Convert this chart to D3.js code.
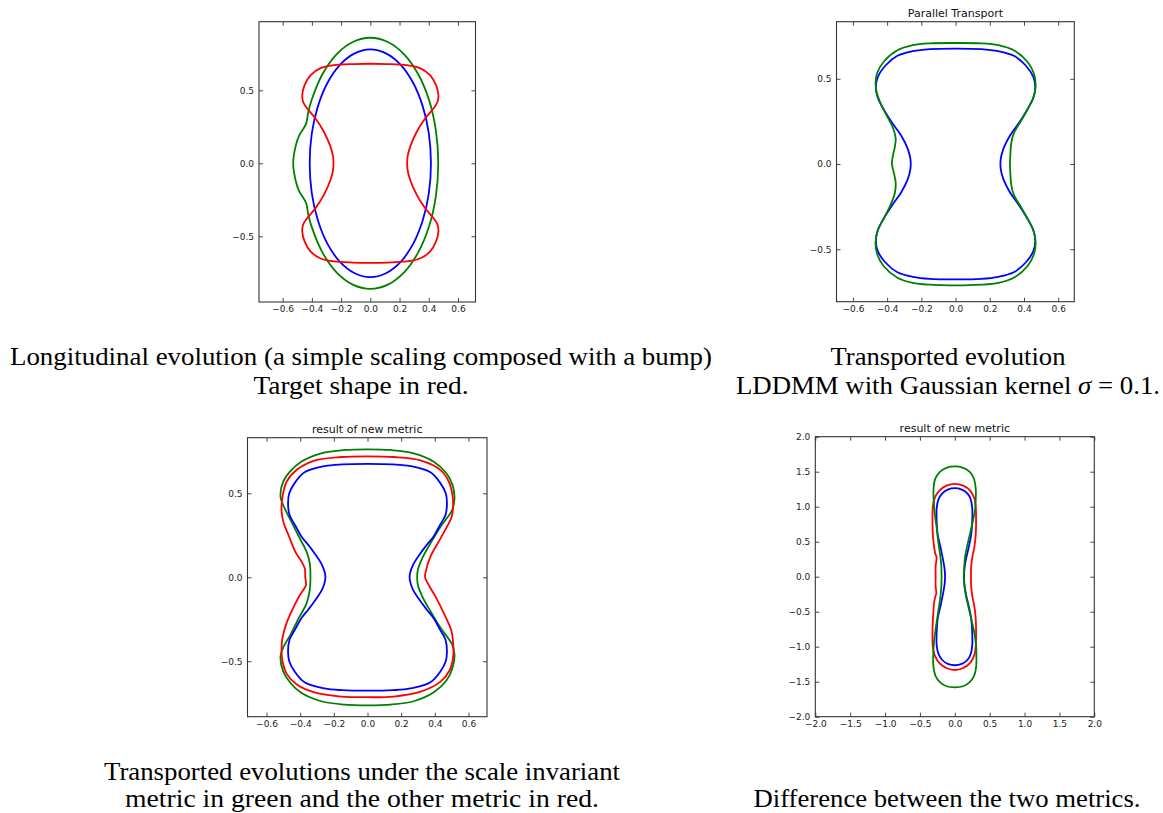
<!DOCTYPE html>
<html><head><meta charset="utf-8">
<script src="https://cdn.jsdelivr.net/npm/d3@7"></script>
<style>html,body{margin:0;padding:0;background:#fff}</style>
</head><body>
<svg id="chart" width="1163" height="813"></svg>
<script>
// ---------------- DATA ----------------
const smallTicksX = [-0.6, -0.4, -0.2, 0.0, 0.2, 0.4, 0.6];
const smallTicksY = [-0.5, 0.0, 0.5];
const bigTicks = [-2.0, -1.5, -1.0, -0.5, 0.0, 0.5, 1.0, 1.5, 2.0];

const panelTitles = ["", "Parallel Transport", "result of new metric", "result of new metric"];

// Panel 1: longitudinal evolution
const p1Blue = [[0,0.78],[0.107,0.753],[0.208,0.675],[0.293,0.552],[0.359,0.39],[0.401,0.202],[0.415,0],[0.401,-0.202],[0.359,-0.39],[0.293,-0.552],[0.208,-0.675],[0.107,-0.753],[0,-0.78],[-0.107,-0.753],[-0.208,-0.675],[-0.293,-0.552],[-0.359,-0.39],[-0.401,-0.202],[-0.415,0],[-0.401,0.202],[-0.359,0.39],[-0.293,0.552],[-0.208,0.675],[-0.107,0.753]];
const p1Green = [[0,0.86],[0.12,0.831],[0.233,0.745],[0.329,0.608],[0.403,0.43],[0.449,0.223],[0.465,0],[0.449,-0.223],[0.403,-0.43],[0.329,-0.608],[0.233,-0.745],[0.12,-0.831],[0,-0.86],[-0.12,-0.831],[-0.233,-0.745],[-0.329,-0.608],[-0.403,-0.43],[-0.425,-0.35],[-0.44,-0.27],[-0.489,-0.187],[-0.512,-0.114],[-0.528,0],[-0.512,0.114],[-0.489,0.187],[-0.44,0.27],[-0.425,0.35],[-0.403,0.43],[-0.329,0.608],[-0.233,0.745],[-0.12,0.831]];
const p1Red = [[0,0.682],[0.12,0.68],[0.25,0.672],[0.34,0.652],[0.41,0.603],[0.45,0.535],[0.466,0.466],[0.46,0.42],[0.432,0.375],[0.375,0.307],[0.318,0.216],[0.273,0.114],[0.255,0.045],[0.255,-0.045],[0.273,-0.114],[0.318,-0.216],[0.375,-0.307],[0.432,-0.375],[0.46,-0.42],[0.466,-0.466],[0.45,-0.535],[0.41,-0.603],[0.34,-0.652],[0.25,-0.672],[0.12,-0.68],[0,-0.682],[-0.12,-0.68],[-0.25,-0.672],[-0.34,-0.652],[-0.41,-0.603],[-0.45,-0.535],[-0.466,-0.466],[-0.46,-0.42],[-0.432,-0.375],[-0.375,-0.307],[-0.318,-0.216],[-0.273,-0.114],[-0.255,-0.045],[-0.255,0.045],[-0.273,0.114],[-0.318,0.216],[-0.375,0.307],[-0.432,0.375],[-0.46,0.42],[-0.466,0.466],[-0.45,0.535],[-0.41,0.603],[-0.34,0.652],[-0.25,0.672],[-0.12,0.68]];

// Panel 2: parallel transport
const p2Blue = [[0,0.677],[0.15,0.674],[0.25,0.662],[0.34,0.635],[0.41,0.578],[0.455,0.51],[0.466,0.45],[0.455,0.39],[0.42,0.32],[0.37,0.24],[0.32,0.17],[0.28,0.09],[0.264,0.03],[0.264,-0.03],[0.28,-0.09],[0.32,-0.17],[0.37,-0.24],[0.42,-0.32],[0.455,-0.39],[0.466,-0.45],[0.455,-0.51],[0.41,-0.578],[0.34,-0.635],[0.25,-0.662],[0.15,-0.674],[0,-0.677],[-0.15,-0.674],[-0.25,-0.662],[-0.34,-0.635],[-0.41,-0.578],[-0.455,-0.51],[-0.466,-0.45],[-0.455,-0.39],[-0.42,-0.32],[-0.37,-0.24],[-0.32,-0.17],[-0.28,-0.09],[-0.264,-0.03],[-0.264,0.03],[-0.28,0.09],[-0.32,0.17],[-0.37,0.24],[-0.42,0.32],[-0.455,0.39],[-0.466,0.45],[-0.455,0.51],[-0.41,0.578],[-0.34,0.635],[-0.25,0.662],[-0.15,0.674]];
const p2Green = [[0,0.71],[0.15,0.708],[0.25,0.697],[0.34,0.667],[0.42,0.6],[0.458,0.53],[0.468,0.46],[0.455,0.39],[0.42,0.32],[0.375,0.24],[0.34,0.18],[0.325,0.12],[0.32,0.05],[0.318,0],[0.32,-0.05],[0.325,-0.12],[0.34,-0.18],[0.375,-0.24],[0.42,-0.32],[0.455,-0.39],[0.468,-0.46],[0.458,-0.53],[0.42,-0.6],[0.34,-0.667],[0.25,-0.697],[0.15,-0.708],[0,-0.712],[-0.15,-0.708],[-0.25,-0.697],[-0.34,-0.667],[-0.42,-0.6],[-0.458,-0.53],[-0.468,-0.46],[-0.455,-0.39],[-0.42,-0.32],[-0.38,-0.24],[-0.355,-0.17],[-0.35,-0.11],[-0.36,-0.055],[-0.372,0],[-0.367,0.045],[-0.355,0.1],[-0.35,0.15],[-0.365,0.21],[-0.4,0.28],[-0.44,0.36],[-0.465,0.44],[-0.46,0.53],[-0.42,0.6],[-0.34,0.667],[-0.25,0.697],[-0.15,0.708]];

// Panel 3: two metrics
const p3Blue = [[0,0.675],[0.15,0.672],[0.255,0.662],[0.374,0.625],[0.434,0.559],[0.465,0.5],[0.472,0.44],[0.463,0.37],[0.43,0.31],[0.394,0.245],[0.35,0.19],[0.315,0.143],[0.27,0.073],[0.252,0.02],[0.252,-0.02],[0.27,-0.073],[0.315,-0.143],[0.35,-0.19],[0.394,-0.245],[0.43,-0.31],[0.463,-0.37],[0.472,-0.44],[0.465,-0.5],[0.434,-0.559],[0.374,-0.625],[0.255,-0.662],[0.15,-0.672],[0,-0.675],[-0.15,-0.672],[-0.255,-0.662],[-0.374,-0.625],[-0.434,-0.559],[-0.465,-0.5],[-0.472,-0.44],[-0.463,-0.37],[-0.43,-0.31],[-0.394,-0.245],[-0.35,-0.19],[-0.315,-0.143],[-0.27,-0.073],[-0.252,-0.02],[-0.252,0.02],[-0.27,0.073],[-0.315,0.143],[-0.35,0.19],[-0.394,0.245],[-0.43,0.31],[-0.463,0.37],[-0.472,0.44],[-0.465,0.5],[-0.434,0.559],[-0.374,0.625],[-0.255,0.662],[-0.15,0.672]];
const p3Red = [[0,0.72],[0.156,0.716],[0.315,0.696],[0.434,0.638],[0.483,0.57],[0.503,0.5],[0.509,0.42],[0.5,0.36],[0.483,0.321],[0.434,0.232],[0.374,0.123],[0.345,0.03],[0.342,0.0],[0.355,-0.03],[0.404,-0.115],[0.463,-0.234],[0.497,-0.313],[0.509,-0.393],[0.509,-0.472],[0.489,-0.552],[0.434,-0.621],[0.315,-0.681],[0.156,-0.71],[0,-0.714],[-0.156,-0.71],[-0.315,-0.685],[-0.42,-0.638],[-0.48,-0.575],[-0.505,-0.5],[-0.511,-0.43],[-0.505,-0.36],[-0.48,-0.27],[-0.445,-0.19],[-0.41,-0.12],[-0.375,-0.065],[-0.365,-0.045],[-0.37,0],[-0.372,0.05],[-0.39,0.09],[-0.428,0.15],[-0.465,0.24],[-0.5,0.33],[-0.511,0.4],[-0.505,0.48],[-0.48,0.57],[-0.42,0.64],[-0.315,0.695],[-0.156,0.716]];
const p3Green = [[0,0.762],[0.137,0.758],[0.275,0.738],[0.394,0.688],[0.469,0.619],[0.505,0.55],[0.517,0.47],[0.503,0.4],[0.47,0.35],[0.434,0.301],[0.374,0.202],[0.325,0.113],[0.299,0.044],[0.295,0],[0.299,-0.044],[0.325,-0.113],[0.374,-0.202],[0.434,-0.301],[0.47,-0.35],[0.503,-0.4],[0.517,-0.462],[0.505,-0.54],[0.469,-0.615],[0.394,-0.685],[0.275,-0.738],[0.137,-0.758],[0,-0.762],[-0.137,-0.758],[-0.275,-0.738],[-0.394,-0.688],[-0.461,-0.625],[-0.501,-0.56],[-0.517,-0.47],[-0.497,-0.41],[-0.457,-0.341],[-0.408,-0.242],[-0.362,-0.155],[-0.343,-0.075],[-0.339,0],[-0.343,0.083],[-0.362,0.153],[-0.408,0.242],[-0.457,0.341],[-0.497,0.42],[-0.517,0.48],[-0.501,0.569],[-0.461,0.629],[-0.394,0.688],[-0.275,0.738],[-0.137,0.758]];

// Panel 4: difference between the two metrics
const p4Blue = [[0,1.265],[0.1,1.245],[0.18,1.19],[0.23,1.1],[0.25,0.98],[0.25,0.8],[0.235,0.6],[0.2,0.42],[0.16,0.25],[0.137,0.1],[0.133,0],[0.137,-0.1],[0.16,-0.25],[0.2,-0.42],[0.235,-0.6],[0.25,-0.8],[0.25,-0.98],[0.23,-1.1],[0.18,-1.19],[0.1,-1.245],[0,-1.265],[-0.1,-1.245],[-0.18,-1.19],[-0.235,-1.1],[-0.26,-0.98],[-0.26,-0.8],[-0.245,-0.6],[-0.205,-0.42],[-0.17,-0.25],[-0.145,-0.1],[-0.14,0],[-0.145,0.1],[-0.17,0.25],[-0.205,0.42],[-0.245,0.6],[-0.26,0.8],[-0.26,0.98],[-0.235,1.1],[-0.18,1.19],[-0.1,1.245]];
const p4Red = [[0,1.325],[0.12,1.3],[0.22,1.23],[0.28,1.12],[0.3,1.0],[0.305,0.8],[0.3,0.6],[0.28,0.42],[0.255,0.3],[0.235,0.15],[0.232,0],[0.235,-0.15],[0.255,-0.3],[0.28,-0.42],[0.3,-0.6],[0.305,-0.8],[0.3,-1.0],[0.28,-1.12],[0.22,-1.23],[0.12,-1.305],[0,-1.333],[-0.12,-1.305],[-0.22,-1.235],[-0.29,-1.12],[-0.315,-1.0],[-0.32,-0.8],[-0.31,-0.55],[-0.295,-0.36],[-0.275,-0.27],[-0.265,-0.24],[-0.275,-0.14],[-0.275,0],[-0.275,0.14],[-0.262,0.28],[-0.28,0.33],[-0.3,0.45],[-0.315,0.6],[-0.32,0.8],[-0.315,1.0],[-0.29,1.12],[-0.22,1.23],[-0.12,1.3]];
const p4Green = [[0,1.575],[0.12,1.555],[0.21,1.5],[0.27,1.41],[0.3,1.26],[0.3,1.1],[0.29,0.95],[0.26,0.8],[0.22,0.62],[0.18,0.45],[0.15,0.3],[0.135,0.15],[0.13,0],[0.14,-0.15],[0.165,-0.3],[0.2,-0.45],[0.24,-0.62],[0.28,-0.8],[0.305,-0.98],[0.31,-1.15],[0.305,-1.3],[0.275,-1.42],[0.21,-1.51],[0.12,-1.565],[0,-1.58],[-0.12,-1.565],[-0.21,-1.51],[-0.275,-1.42],[-0.305,-1.3],[-0.31,-1.15],[-0.3,-0.95],[-0.275,-0.75],[-0.245,-0.55],[-0.215,-0.35],[-0.195,-0.18],[-0.19,0],[-0.195,0.18],[-0.215,0.35],[-0.24,0.52],[-0.26,0.7],[-0.285,0.88],[-0.3,1.05],[-0.305,1.25],[-0.28,1.4],[-0.21,1.5],[-0.12,1.555]];

const captionLines = [
  "Longitudinal evolution (a simple scaling composed with a bump)",
  "Target shape in red.",
  "Transported evolution",
  "LDDMM with Gaussian kernel |σ| = 0.1.",
  "Transported evolutions under the scale invariant",
  "metric in green and the other metric in red.",
  "Difference between the two metrics."
];

// ---------------- LAYOUT ----------------
const COLORS = {blue: "#0000ff", green: "#008000", red: "#ff0000"};

const panels = [
  {frame: [259, 475.5, 21.7, 302], xDom: [-0.762, 0.72], yDom: [-0.95, 0.97], xt: smallTicksX, yt: smallTicksY, title: panelTitles[0],
   series: [[p1Blue, COLORS.blue], [p1Green, COLORS.green], [p1Red, COLORS.red]]},
  {frame: [836.5, 1074.3, 21.7, 301.7], xDom: [-0.696, 0.694], yDom: [-0.808, 0.835], xt: smallTicksX, yt: smallTicksY, title: panelTitles[1],
   series: [[p2Blue, COLORS.blue], [p2Green, COLORS.green]]},
  {frame: [247.5, 487, 437.7, 716.7], xDom: [-0.713, 0.71], yDom: [-0.83, 0.831], xt: smallTicksX, yt: smallTicksY, title: panelTitles[2],
   series: [[p3Green, COLORS.green], [p3Red, COLORS.red], [p3Blue, COLORS.blue]]},
  {frame: [815.3, 1094.3, 436.7, 716.7], xDom: [-2, 2], yDom: [-2, 2], xt: bigTicks, yt: bigTicks, title: panelTitles[3],
   series: [[p4Blue, COLORS.blue], [p4Red, COLORS.red], [p4Green, COLORS.green]]}
];

const captions = [
  {text: captionLines[0], cx: 361, y: 365, w: 702},
  {text: captionLines[1], cx: 361, y: 394, w: 215},
  {text: captionLines[2], cx: 948, y: 365, w: 235},
  {text: captionLines[3], cx: 948, y: 394, w: 424},
  {text: captionLines[4], cx: 362, y: 780, w: 516},
  {text: captionLines[5], cx: 362, y: 807, w: 474},
  {text: captionLines[6], cx: 947, y: 807, w: 387}
];

// ---------------- DRAW ----------------
const svg = d3.select("#chart");
svg.append("rect").attr("width", 1163).attr("height", 813).attr("fill", "#fff");

const fmt = d3.format(".1f");
const TICK = 4;

panels.forEach((p, i) => {
  const [x0, x1, y0, y1] = p.frame;
  const xs = d3.scaleLinear().domain(p.xDom).range([x0, x1]);
  const ys = d3.scaleLinear().domain(p.yDom).range([y1, y0]);
  const g = svg.append("g");

  const clipId = "clip" + i;
  g.append("clipPath").attr("id", clipId).append("rect")
    .attr("x", x0).attr("y", y0).attr("width", x1 - x0).attr("height", y1 - y0);

  const line = d3.line().x(d => xs(d[0])).y(d => ys(d[1])).curve(d3.curveCatmullRomClosed.alpha(0.5));
  const curves = g.append("g").attr("clip-path", `url(#${clipId})`);
  p.series.forEach(([data, color]) => {
    curves.append("path").attr("d", line(data)).attr("fill", "none")
      .attr("stroke", color).attr("stroke-width", 1.8).attr("stroke-linejoin", "round");
  });

  const styleAxis = (sel) => {
    sel.attr("font-family", "'DejaVu Sans', sans-serif").attr("font-size", 9);
    sel.select(".domain").remove();
    sel.selectAll(".tick line").attr("stroke", "#333").attr("stroke-width", 0.9);
    sel.selectAll(".tick text").attr("fill", "#222");
  };

  g.append("g").attr("transform", `translate(0,${y1})`)
    .call(d3.axisBottom(xs).tickValues(p.xt).tickFormat(fmt).tickSize(-TICK).tickPadding(4))
    .call(styleAxis);
  g.append("g").attr("transform", `translate(0,${y0})`)
    .call(d3.axisTop(xs).tickValues(p.xt).tickFormat("").tickSize(-TICK))
    .call(styleAxis);
  g.append("g").attr("transform", `translate(${x0},0)`)
    .call(d3.axisLeft(ys).tickValues(p.yt).tickFormat(fmt).tickSize(-TICK).tickPadding(5))
    .call(styleAxis);
  g.append("g").attr("transform", `translate(${x1},0)`)
    .call(d3.axisRight(ys).tickValues(p.yt).tickFormat("").tickSize(-TICK))
    .call(styleAxis);

  g.append("rect").attr("x", x0).attr("y", y0).attr("width", x1 - x0).attr("height", y1 - y0)
    .attr("fill", "none").attr("stroke", "#333").attr("stroke-width", 1.1);

  if (p.title) {
    g.append("text").attr("x", (x0 + x1) / 2).attr("y", y0 - 4.5)
      .attr("text-anchor", "middle").attr("font-family", "'DejaVu Sans', sans-serif")
      .attr("font-size", 11).attr("fill", "#111").text(p.title);
  }
});

captions.forEach(c => {
  const t = svg.append("text").attr("x", c.cx).attr("y", c.y).attr("text-anchor", "middle")
    .attr("font-family", "'Liberation Serif', 'Times New Roman', serif").attr("font-size", 25)
    .attr("fill", "#000").attr("textLength", c.w).attr("lengthAdjust", "spacingAndGlyphs");
  c.text.split("|").forEach((part, k) => {
    const ts = t.append("tspan").text(part);
    if (k % 2 === 1) ts.attr("font-style", "italic");
  });
});
</script>
</body></html>
